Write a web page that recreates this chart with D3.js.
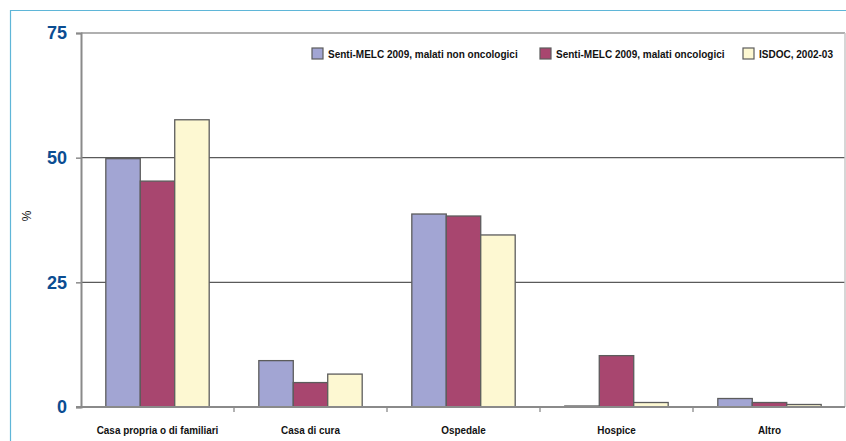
<!DOCTYPE html>
<html>
<head>
<meta charset="utf-8">
<script src="https://cdn.jsdelivr.net/npm/d3@7"></script>
<style>
  html, body { margin: 0; padding: 0; background: #fff; }
  svg { display: block; }
</style>
</head>
<body>
<svg id="chart" width="846" height="441"></svg>
<script>
// Luogo del decesso (%) per gruppo di pazienti
const categories = ["Casa propria o di familiari", "Casa di cura", "Ospedale", "Hospice", "Altro"];
const seriesNames = [
  "Senti-MELC 2009, malati non oncologici",
  "Senti-MELC 2009, malati oncologici",
  "ISDOC, 2002-03"
];
const nonOncologici = [49.8, 9.3, 38.7, 0.2, 1.7];
const oncologici = [45.3, 4.9, 38.3, 10.3, 0.9];
const isdoc = [57.6, 6.6, 34.5, 0.9, 0.5];
const yTicks = [0, 25, 50, 75];

const seriesValues = [nonOncologici, oncologici, isdoc];
const colors = ["#a2a5d3", "#a8466f", "#fdf8d2"];

const svg = d3.select("#chart");
const W = 846, H = 441;
const plot = { left: 81, right: 845, top: 33, bottom: 407 };
const narrowFont = "'Liberation Sans Narrow', 'Arial Narrow', 'Liberation Sans', Arial, sans-serif";

// squeeze bold labels horizontally to a condensed look
function condense(sel, factor) {
  sel.each(function () {
    const len = this.getComputedTextLength();
    d3.select(this).attr("textLength", len * factor).attr("lengthAdjust", "spacingAndGlyphs");
  });
}

// outer frame (top and left rule)
svg.append("line").attr("x1", 10).attr("x2", W).attr("y1", 10.5).attr("y2", 10.5)
  .attr("stroke", "#5fb6d8").attr("stroke-width", 1.2);
svg.append("line").attr("x1", 10.5).attr("x2", 10.5).attr("y1", 10).attr("y2", H)
  .attr("stroke", "#5fb6d8").attr("stroke-width", 1.2);

const y = d3.scaleLinear().domain([0, 75]).range([plot.bottom, plot.top]);
const x0 = d3.scaleBand().domain(categories).range([plot.left, plot.left + 5 * 153]).padding(0);
const x1 = d3.scaleBand().domain(seriesNames).range([0, x0.bandwidth()])
  .paddingInner(0).paddingOuter(0.72);

// horizontal grid lines
svg.append("g").selectAll("line").data(yTicks.filter(t => t > 0)).join("line")
  .attr("x1", plot.left).attr("x2", plot.right)
  .attr("y1", d => y(d)).attr("y2", d => y(d))
  .attr("stroke", d => d === 75 ? "#b0b0b0" : "#5a5a5a")
  .attr("stroke-width", d => d === 75 ? 2 : 1.4);

// right edge of plot
svg.append("line").attr("x1", plot.right).attr("x2", plot.right)
  .attr("y1", plot.top).attr("y2", plot.bottom)
  .attr("stroke", "#c8c8c8").attr("stroke-width", 1.5);

// y axis
const yAxis = d3.axisLeft(y).tickValues(yTicks).tickSize(5).tickPadding(9);
const gy = svg.append("g").attr("transform", `translate(${plot.left},0)`).call(yAxis);
gy.select(".domain").attr("stroke", "#8a8a8a").attr("stroke-width", 2);
gy.selectAll(".tick line").attr("stroke", "#8a8a8a").attr("stroke-width", 1.5);
gy.selectAll(".tick text")
  .attr("fill", "#0b4d92")
  .style("font-family", "'Liberation Sans', Arial, sans-serif")
  .style("font-weight", "bold")
  .style("font-size", "18px");

// y axis title
svg.append("text")
  .attr("transform", "translate(31,216) rotate(-90)")
  .attr("text-anchor", "middle")
  .style("font-family", "'Liberation Sans', Arial, sans-serif")
  .style("font-size", "12px")
  .attr("fill", "#111")
  .text("%");

// bars
const groups = svg.append("g").selectAll("g").data(categories).join("g")
  .attr("transform", d => `translate(${x0(d)},0)`);
groups.selectAll("rect")
  .data((c, ci) => seriesNames.map((s, si) => ({ s, si, v: seriesValues[si][ci] })))
  .join("rect")
  .attr("x", d => x1(d.s))
  .attr("width", x1.bandwidth())
  .attr("y", d => y(d.v))
  .attr("height", d => y(0) - y(d.v))
  .attr("fill", d => colors[d.si])
  .attr("stroke", "#5c5c5c")
  .attr("stroke-width", 1.3);

// x axis
const xAxis = d3.axisBottom(x0).tickSize(0).tickPadding(19);
const gx = svg.append("g").attr("transform", `translate(0,${plot.bottom})`).call(xAxis);
gx.select(".domain").attr("stroke", "#8a8a8a").attr("stroke-width", 2)
  .attr("d", `M${plot.left - 5},0H${plot.right}`);
gx.selectAll(".tick text")
  .attr("fill", "#111")
  .style("font-family", narrowFont)
  .style("font-weight", "bold")
  .style("font-size", "11px")
  .call(condense, 0.9);
// tick marks between categories
svg.append("g").selectAll("line").data(categories.slice(1)).join("line")
  .attr("x1", d => x0(d)).attr("x2", d => x0(d))
  .attr("y1", plot.bottom).attr("y2", plot.bottom + 5)
  .attr("stroke", "#8a8a8a").attr("stroke-width", 1.3);

// legend
const legendX = [312, 540, 743];
const legend = svg.append("g").selectAll("g").data(seriesNames).join("g")
  .attr("transform", (d, i) => `translate(${legendX[i]},48)`);
legend.append("rect").attr("width", 11).attr("height", 11)
  .attr("fill", (d, i) => colors[i]).attr("stroke", "#5c5c5c").attr("stroke-width", 1.2);
legend.append("text").attr("x", 16).attr("y", 9.5)
  .style("font-family", narrowFont)
  .style("font-weight", "bold")
  .style("font-size", "11px")
  .attr("fill", "#111")
  .text(d => d)
  .call(condense, 0.91);
</script>
</body>
</html>
